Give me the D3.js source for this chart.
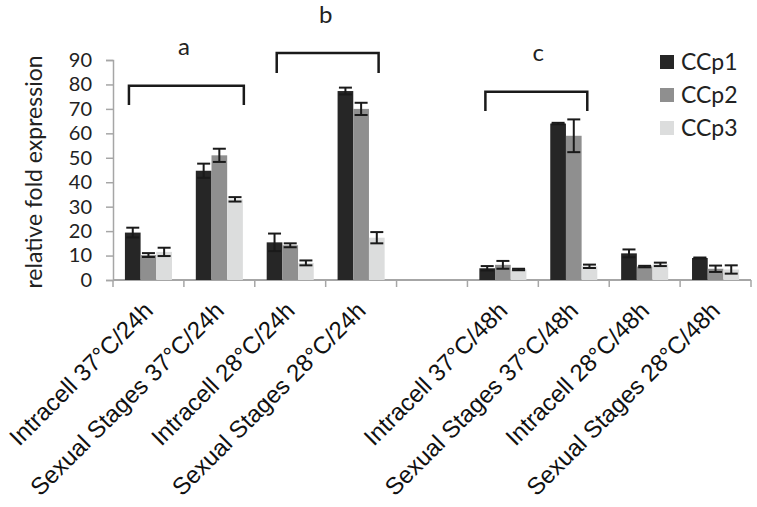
<!DOCTYPE html>
<html><head><meta charset="utf-8">
<script src="https://cdn.jsdelivr.net/npm/d3@7"></script>
<style>body{margin:0;background:#fff}svg{display:block}</style>
</head><body><svg id="c" width="757" height="507"></svg>
<script>
const categories = ["Intracell 37°C/24h","Sexual Stages 37°C/24h","Intracell 28°C/24h","Sexual Stages 28°C/24h","",
  "Intracell 37°C/48h","Sexual Stages 37°C/48h","Intracell 28°C/48h","Sexual Stages 28°C/48h"];
const seriesNames = ["CCp1","CCp2","CCp3"];
const ccp1 = [19.4, 44.7, 15.4, 77.3, null, 4.8, 64.0, 10.9, 9.0];
const ccp2 = [10.2, 51.0, 14.2, 70.0, null, 6.2, 59.0, 5.5, 4.6];
const ccp3 = [11.5, 33.0, 7.0, 17.3, null, 4.3, 5.6, 6.4, 4.3];
const err1 = [2.0, 2.9, 3.6, 1.4, null, 0.9, 0.3, 1.6, 0.2];
const err2 = [0.8, 2.7, 0.8, 2.5, null, 1.6, 6.7, 0.3, 1.3];
const err3 = [1.7, 0.9, 1.0, 2.3, null, 0.3, 0.7, 0.7, 1.7];
const yTicks = [0,10,20,30,40,50,60,70,80,90];
const colors = ["#262626","#8f8f8f","#dcdddd"];
// significance brackets: from category, to category, top value, leg value, label
const bracketLabels = ["a","b","c"];
const bracketFrom = [0, 2, 5];
const bracketTo = [1, 3, 6];
const bracketTop = [79.5, 92.9, 77.0];
const bracketLeg = [71.6, 84.7, 69.1];
const labelValue = [92, 105, 89.5];

const values = [ccp1, ccp2, ccp3];
const errs = [err1, err2, err3];
const svg = d3.select("#c");
const L = 113, R = 751, T = 60, B = 280;
const x = d3.scaleBand().domain(categories.map((c,i)=>i)).range([L, R]).padding(0);
const xs = d3.scaleBand().domain(seriesNames).range([0, x.bandwidth()]).paddingInner(0).paddingOuter(0.76);
const y = d3.scaleLinear().domain([0, 90]).range([B, T]);
const grey = "#a6a6a6";

// y axis
const ya = svg.append("g").attr("transform", `translate(${L},0)`)
  .call(d3.axisLeft(y).tickValues(yTicks).tickSize(7).tickPadding(14));
ya.select(".domain").attr("stroke", grey).attr("stroke-width", 1.5);
ya.selectAll(".tick line").attr("stroke", grey).attr("stroke-width", 1.5);
ya.selectAll("text").attr("font-family","Lato").attr("font-size", 20).attr("fill","#222");

// x axis baseline + boundary ticks
const xa = svg.append("g").attr("transform", `translate(0,${B})`)
  .call(d3.axisBottom(x).tickSize(0).tickFormat(""));
xa.select(".domain").remove();
svg.append("line").attr("x1", L).attr("x2", R).attr("y1", B).attr("y2", B).attr("stroke", grey).attr("stroke-width", 2);
const bounds = categories.map((c,i)=>x(i)).concat([R]);
svg.selectAll(".bt").data(bounds).join("line").attr("x1", d=>d).attr("x2", d=>d)
  .attr("y1", B).attr("y2", B+7).attr("stroke", grey).attr("stroke-width", 1.5);

// category labels
svg.selectAll(".cl").data(categories).join("text")
  .attr("transform", (d,i)=>`translate(${x(i)+x.bandwidth()/2+6},${B+32}) rotate(-45)`)
  .attr("text-anchor","end").attr("font-family","Liberation Sans, Arial").attr("font-size", 24)
  .attr("fill","#111").text(d=>d);

// bars
seriesNames.forEach((s, si) => {
  const g = svg.append("g");
  categories.forEach((c, ci) => {
    const v = values[si][ci];
    if (v == null) return;
    const bx = x(ci) + xs(s);
    g.append("rect").attr("x", bx).attr("y", y(v)).attr("width", xs.bandwidth()).attr("height", B - y(v))
      .attr("fill", colors[si]);
  });
});
// error bars
seriesNames.forEach((s, si) => {
  categories.forEach((c, ci) => {
    const v = values[si][ci], e = errs[si][ci];
    if (v == null) return;
    const cx = x(ci) + xs(s) + xs.bandwidth()/2;
    const hw = 6.5;
    const g = svg.append("g").attr("stroke","#1a1a1a").attr("stroke-width",2);
    g.append("line").attr("x1",cx).attr("x2",cx).attr("y1",y(v+e)).attr("y2",y(v-e));
    g.append("line").attr("x1",cx-hw).attr("x2",cx+hw).attr("y1",y(v+e)).attr("y2",y(v+e));
    g.append("line").attr("x1",cx-hw).attr("x2",cx+hw).attr("y1",y(v-e)).attr("y2",y(v-e));
  });
});

// brackets
const bOffL = [-19.5, -13.5, -17.5], bOffR = [24.5, 17.5, 13.5];
bracketLabels.forEach((lab, i) => {
  const x1 = x(bracketFrom[i]) + x.bandwidth()/2 + bOffL[i];
  const x2 = x(bracketTo[i]) + x.bandwidth()/2 + bOffR[i];
  svg.append("path").attr("d", `M${x1},${y(bracketLeg[i])}V${y(bracketTop[i])}H${x2}V${y(bracketLeg[i])}`)
    .attr("fill","none").attr("stroke","#1a1a1a").attr("stroke-width",2.5);
  svg.append("text").attr("x", (x(bracketFrom[i]) + x(bracketTo[i]) + x.bandwidth())/2)
    .attr("y", y(labelValue[i])).attr("text-anchor","middle")
    .attr("font-family","Lato").attr("font-size",24).attr("fill","#222").text(lab);
});

// y title
svg.append("text").attr("transform", `translate(42,${(T+B)/2+2}) rotate(-90)`)
  .attr("text-anchor","middle").attr("font-family","Lato").attr("font-size",23).attr("fill","#222")
  .text("relative fold expression");

// legend
const lg = svg.append("g").attr("transform","translate(660,55)");
seriesNames.forEach((s, i) => {
  lg.append("rect").attr("x",0).attr("y", i*33).attr("width",14).attr("height",14).attr("fill",colors[i]);
  lg.append("text").attr("x",21).attr("y", i*33 + 15).attr("font-family","Lato").attr("font-size",23)
    .attr("fill","#222").text(s);
});
</script></body></html>
